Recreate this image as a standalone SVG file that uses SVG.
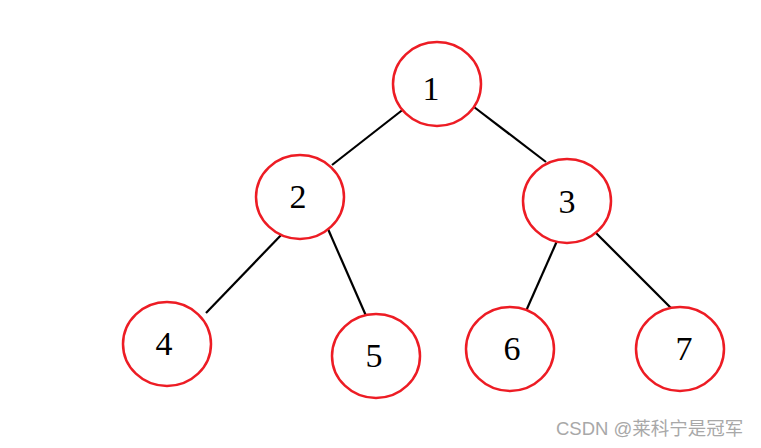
<svg xmlns="http://www.w3.org/2000/svg" width="761" height="448" viewBox="0 0 761 448">
<style>
.n ellipse{fill:#fff;stroke:#ed1c24;stroke-width:2.5}
.n text{font-family:"Liberation Serif",serif;font-size:34px;fill:#000;text-anchor:middle;dominant-baseline:central}
.e line{stroke:#000;stroke-width:2.2}
.wm{font-family:"Liberation Sans","Noto Sans CJK SC",sans-serif;font-size:18.5px;fill:#a8a8a8}
</style>
<rect width="761" height="448" fill="#fff"/>
<g id="edges" class="e">
<line x1="405" y1="108" x2="332" y2="165"/>
<line x1="474" y1="107" x2="546" y2="162"/>
<line x1="284" y1="232" x2="206" y2="313"/>
<line x1="328" y1="229" x2="367" y2="318"/>
<line x1="557" y1="241" x2="526" y2="311"/>
<line x1="596" y1="233" x2="673" y2="310"/>
</g>
<g id="node1" class="n"><ellipse cx="437" cy="84" rx="44" ry="42"/><text x="431" y="88">1</text></g>
<g id="node2" class="n"><ellipse cx="300" cy="197" rx="44" ry="42"/><text x="298" y="196">2</text></g>
<g id="node3" class="n"><ellipse cx="567" cy="201" rx="44" ry="42"/><text x="567" y="201">3</text></g>
<g id="node4" class="n"><ellipse cx="167" cy="344" rx="44" ry="42"/><text x="164" y="343">4</text></g>
<g id="node5" class="n"><ellipse cx="376" cy="356" rx="44" ry="42"/><text x="374" y="355">5</text></g>
<g id="node6" class="n"><ellipse cx="510" cy="349" rx="44" ry="42"/><text x="512" y="348">6</text></g>
<g id="node7" class="n"><ellipse cx="680" cy="349" rx="44" ry="42"/><text x="684" y="348">7</text></g>
<text class="wm" x="556" y="435">CSDN @莱科宁是冠军</text>
</svg>
